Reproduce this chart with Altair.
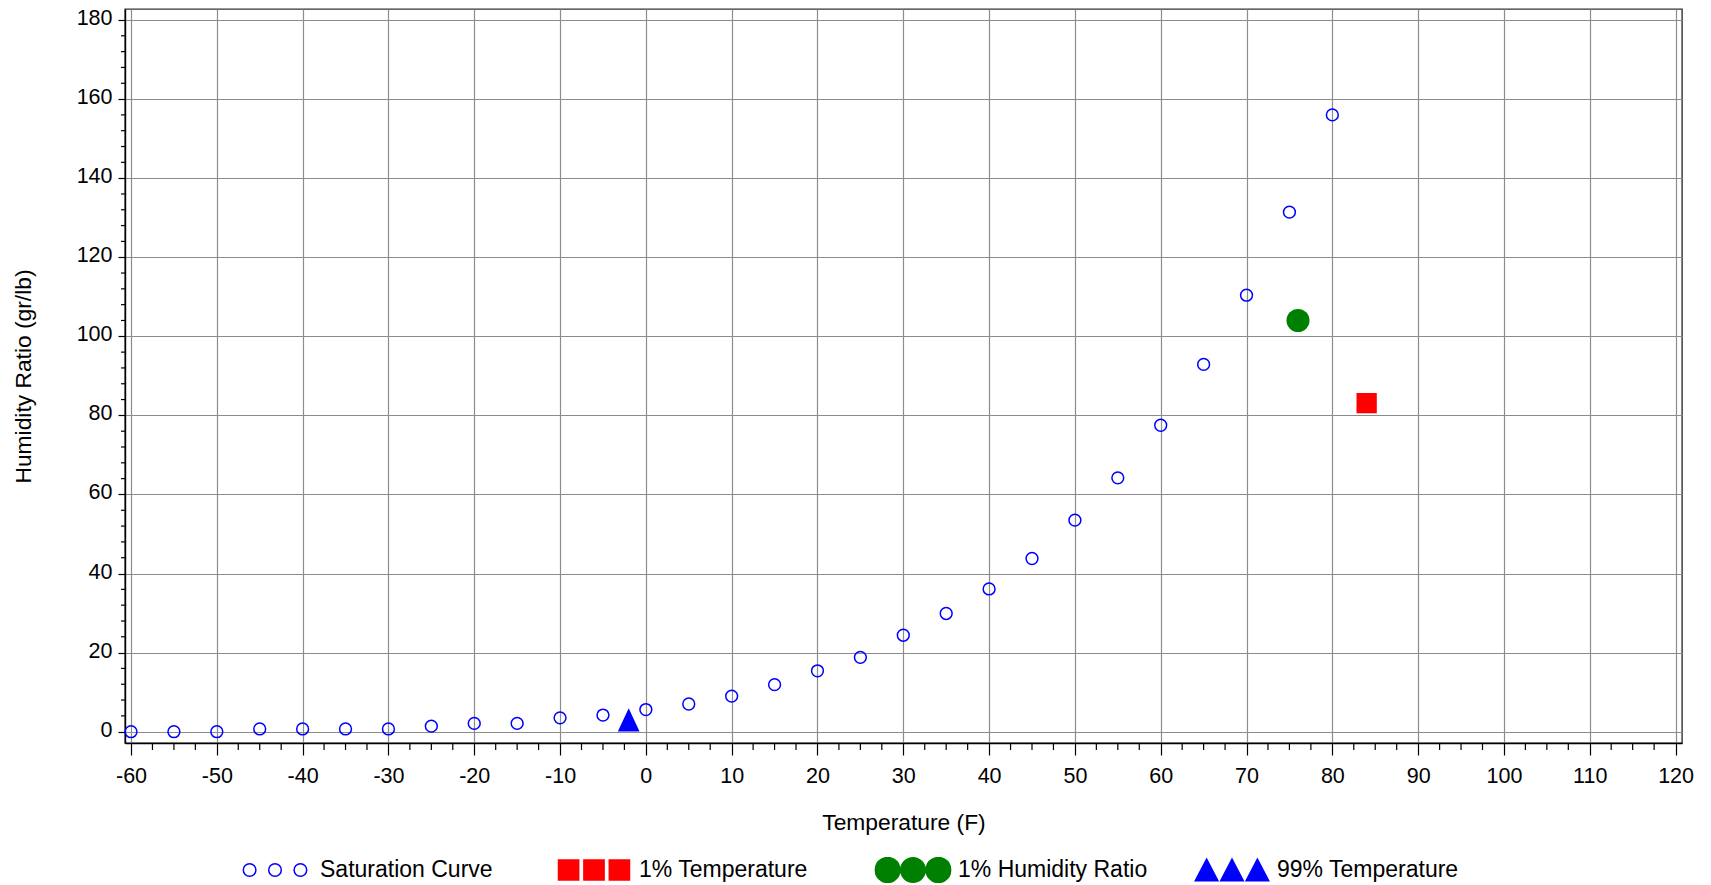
import altair as alt
import pandas as pd
import numpy as np

# ---------------- data ----------------
sat_temp = [-60, -55, -50, -45, -40, -35, -30, -25, -20, -15, -10, -5, 0, 5,
            10, 15, 20, 25, 30, 35, 40, 45, 50, 55, 60, 65, 70, 75, 80]
sat_ratio = [0.0, 0.0, 0.0, 0.7, 0.7, 0.7, 0.7, 1.4, 2.1, 2.1, 3.5, 4.2, 5.6, 7.0,
             9.0, 11.9, 15.4, 18.8, 24.4, 29.9, 36.1, 43.8, 53.5, 64.2, 77.5, 92.9,
             110.4, 131.4, 156.0]
t1_temp = [84]
t1_ratio = [83.1]
h1_temp = [76]
h1_ratio = [104.0]
t99_temp = [-2]
t99_ratio = [3.0]

series_names = ["Saturation Curve", "1% Temperature", "1% Humidity Ratio", "99% Temperature"]
x_major = list(range(-60, 121, 10))
y_major = list(range(0, 181, 20))
x_minor = [float(v) for v in np.arange(-60, 120.01, 2.5) if v % 10 != 0]
y_minor = [v for v in range(0, 181, 4) if v % 20 != 0]

# ---------------- style ----------------
FONT = "Liberation Sans, Arial, sans-serif"
W, H = 1557, 734
BLUE, RED, GREEN = "#0000ff", "#ff0000", "#008000"
GRID = "#8c8c8c"

xs = alt.Scale(domain=[-60.7, 120.75], nice=False, zero=False)
ys = alt.Scale(domain=[-2.86, 182.78], nice=False, zero=False)

x_axis = alt.Axis(values=x_major, title="Temperature (F)", grid=True, gridColor=GRID,
                  gridWidth=1.2, tickSize=12, tickColor="black", tickWidth=1.2,
                  domainColor="black", domainWidth=1.4, labelFont=FONT, labelFontSize=21.5,
                  labelColor="black", labelPadding=10, labelFlush=False, labelOverlap=False,
                  labelExpr="'' + datum.value",
                  titleFont=FONT, titleFontSize=22.8, titleFontWeight="normal",
                  titleColor="black", titleBaseline="alphabetic", titleY=86)
y_axis = alt.Axis(values=y_major, title="Humidity Ratio (gr/lb)", grid=True, gridColor=GRID,
                  gridWidth=1.2, tickSize=7, tickColor="black", tickWidth=1.2,
                  domainColor="black", domainWidth=1.4, labelFont=FONT, labelFontSize=21.5,
                  labelColor="black", labelPadding=6, labelOffset=-1.5, labelFlush=False,
                  labelOverlap=False, labelExpr="'' + datum.value",
                  titleFont=FONT, titleFontSize=22.8,
                  titleFontWeight="normal", titleColor="black", titleAngle=270,
                  titleAlign="center", titleBaseline="middle", titleX=-102, titleY=H / 2)

# ---------------- legend symbols (three markers each) ----------------
U = 38.0
cs = [-25.4 / U, 0.0, 25.4 / U]
BOUND = "M-1,-0.34M1,0.34"


def circles(r):
    s = BOUND
    for c in cs:
        s += f"M{c - r:.4f},0A{r:.4f},{r:.4f},0,1,1,{c + r:.4f},0A{r:.4f},{r:.4f},0,1,1,{c - r:.4f},0Z"
    return s


def squares(h):
    s = BOUND
    for c in cs:
        s += f"M{c - h:.4f},{-h:.4f}L{c + h:.4f},{-h:.4f}L{c + h:.4f},{h:.4f}L{c - h:.4f},{h:.4f}Z"
    return s


def triangles(hw, hh):
    s = BOUND
    for c in cs:
        s += f"M{c:.4f},{-hh:.4f}L{c + hw:.4f},{hh:.4f}L{c - hw:.4f},{hh:.4f}Z"
    return s


leg_shapes = [circles(6.3 / U), squares(10.1 / U), circles(12.2 / U), triangles(11.3 / U, 10.85 / U)]
leg_fill = ["transparent", RED, GREEN, BLUE]
leg_stroke = [BLUE, RED, GREEN, BLUE]

legend = alt.Legend(title=None, orient="none", legendX=111, legendY=848,
                    direction="horizontal", columns=4, gridAlign="all", columnPadding=45,
                    symbolSize=U * U * 4, symbolStrokeWidth=1.5, symbolOpacity=1,
                    clipHeight=26, labelOffset=6, symbolOffset=0, labelFont=FONT,
                    labelFontSize=23, labelColor="black", labelLimit=400, padding=0)

# ---------------- layers ----------------
X = lambda f: alt.X(f, scale=xs, axis=x_axis)
Y = lambda f: alt.Y(f, scale=ys, axis=y_axis)

sat_df = pd.DataFrame({"t": sat_temp, "w": sat_ratio})
sat = alt.Chart(sat_df).mark_point(shape="circle", filled=False, color=BLUE, size=140,
                                   strokeWidth=1.5, opacity=1).encode(x=X("t:Q"), y=Y("w:Q"))

t1 = alt.Chart(pd.DataFrame({"t": t1_temp, "w": t1_ratio})).mark_point(
    shape="square", filled=True, color=RED, size=412, opacity=1).encode(x=X("t:Q"), y=Y("w:Q"))

h1 = alt.Chart(pd.DataFrame({"t": h1_temp, "w": h1_ratio})).mark_point(
    shape="circle", filled=True, color=GREEN, size=530, opacity=1).encode(x=X("t:Q"), y=Y("w:Q"))

t99 = alt.Chart(pd.DataFrame({"t": t99_temp, "w": t99_ratio})).mark_point(
    shape="M0,-1.07L1,1.07L-1,1.07Z", filled=True, color=BLUE, size=471, opacity=1).encode(
    x=X("t:Q"), y=Y("w:Q"))

xminor = alt.Chart(pd.DataFrame({"t": x_minor})).mark_rule(color="black", strokeWidth=1.2).encode(
    x=X("t:Q"), y=alt.value(H), y2=alt.value(H + 7))

yminor = alt.Chart(pd.DataFrame({"w": y_minor})).mark_rule(color="black", strokeWidth=1.2).encode(
    y=Y("w:Q"), x=alt.value(0), x2=alt.value(-4))

leg_layer = alt.Chart(pd.DataFrame({"series": series_names})).transform_filter("false").mark_point(
    filled=True, opacity=1).encode(
    shape=alt.Shape("series:N", scale=alt.Scale(domain=series_names, range=leg_shapes), legend=legend),
    fill=alt.Fill("series:N", scale=alt.Scale(domain=series_names, range=leg_fill), legend=legend),
    stroke=alt.Stroke("series:N", scale=alt.Scale(domain=series_names, range=leg_stroke), legend=legend))

chart = alt.layer(sat, t1, h1, t99, xminor, yminor, leg_layer).properties(
    width=W, height=H,
    background="white",
    autosize=alt.AutoSizeParams(type="none"),
    padding={"left": 117, "top": 1, "right": 21, "bottom": 141},
).configure_view(stroke="#333333", strokeWidth=1.4)

chart.save("out.html", embed_options={"renderer": "svg", "actions": False})
